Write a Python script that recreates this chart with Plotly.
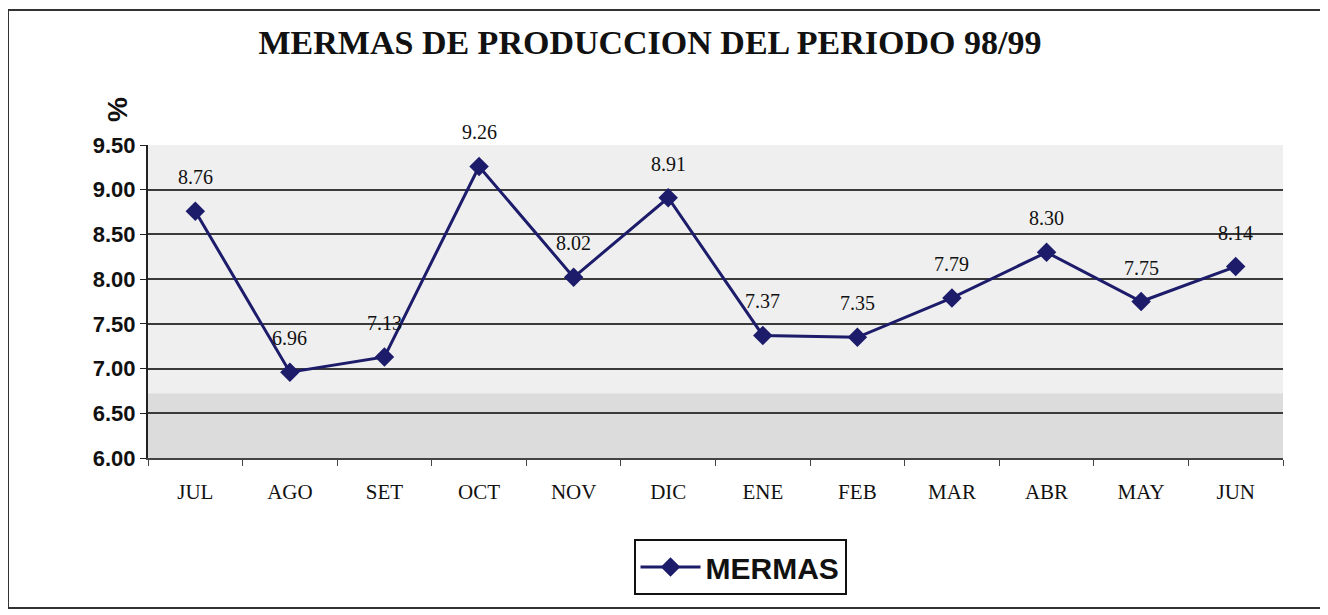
import plotly.graph_objects as go

months = ["JUL", "AGO", "SET", "OCT", "NOV", "DIC", "ENE", "FEB", "MAR", "ABR", "MAY", "JUN"]
mermas = [8.76, 6.96, 7.13, 9.26, 8.02, 8.91, 7.37, 7.35, 7.79, 8.30, 7.75, 8.14]
y_ticks = [6.0, 6.5, 7.0, 7.5, 8.0, 8.5, 9.0, 9.5]

SERIF = "Liberation Serif, Times New Roman, serif"
SANS = "Liberation Sans, Arial, sans-serif"
NAVY = "#1c1c6b"

OFF = 8  # page body margin
W, H = 1328, 615
L, R, T, B = 148 - OFF, 1283 - OFF, 145 - OFF, 458 - OFF
pw, ph = R - L, B - T


def px(x):
    return (x - OFF - L) / pw


def py(y):
    return (B - (y - OFF)) / ph


fig = go.Figure()
fig.add_trace(go.Scatter(
    x=months, y=mermas, mode="lines+markers", name="MERMAS",
    line=dict(color=NAVY, width=3),
    marker=dict(symbol="diamond", size=15, color=NAVY),
    cliponaxis=False,
))

annotations = [
    dict(x=m, y=v, xref="x", yref="y", text=f"{v:.2f}", showarrow=False,
         yshift=34, font=dict(family=SERIF, size=20, color="#111111"))
    for m, v in zip(months, mermas)
]
annotations.append(
    dict(text="<b>%</b>", xref="paper", yref="paper", x=px(100), y=py(95),
         showarrow=False, textangle=-90, font=dict(family=SANS, size=28, color="#111111"))
)

fig.update_layout(
    width=W, height=H,
    margin=dict(l=L, r=W - R, t=T, b=H - B),
    paper_bgcolor="white", plot_bgcolor="#efefef",
    title=dict(text="<b>MERMAS DE PRODUCCION DEL PERIODO 98/99</b>",
               x=px(650), xref="paper", xanchor="center",
               y=1 - (42 - OFF) / H, yanchor="middle",
               font=dict(family=SERIF, size=34, color="#111111")),
    showlegend=True,
    legend=dict(orientation="h", x=px(740), xanchor="center", y=py(567), yanchor="middle",
                bgcolor="white", bordercolor="#111111", borderwidth=2,
                font=dict(family=SANS, size=30, color="#111111", weight="bold"),
                itemwidth=60),
    xaxis=dict(type="category", range=[-0.5, len(months) - 0.5], autorange=False,
               showgrid=False, showline=True, linecolor="#444444", linewidth=2,
               ticks="outside", ticklen=6, tickcolor="#444444", tickson="boundaries",
               tickfont=dict(family=SERIF, size=21, color="#111111"), ticklabelstandoff=14),
    yaxis=dict(range=[6.0, 9.5], tickvals=y_ticks, ticktext=[f"{v:.2f}" for v in y_ticks],
               showgrid=True, gridcolor="#3a3a3a", gridwidth=2,
               showline=True, linecolor="#222222", linewidth=2,
               ticks="outside", ticklen=6, tickcolor="#222222", zeroline=False,
               tickfont=dict(family=SANS, size=22, color="#111111", weight="bold")),
    shapes=[
        dict(type="rect", xref="paper", yref="y", x0=0, x1=1, y0=6.0, y1=6.72,
             fillcolor="#dcdcdc", line=dict(width=0), layer="below"),
        dict(type="rect", xref="paper", yref="paper", x0=px(8), x1=px(1322), y0=py(10), y1=py(608),
             line=dict(color="#333333", width=2), fillcolor="rgba(0,0,0,0)"),
    ],
    annotations=annotations,
)

fig.write_html("out.html")
